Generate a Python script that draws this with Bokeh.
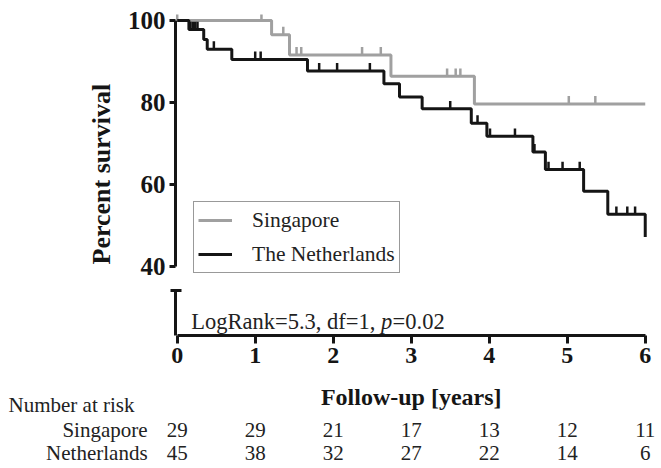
import numpy as np
from bokeh.plotting import figure
from bokeh.models import (Range1d, FixedTicker, Legend, LegendItem,
                          ColumnDataSource, Title)
from bokeh.layouts import column
from bokeh.embed import file_html
from bokeh.resources import INLINE
from bokeh.core.properties import value

# ---------------- data ----------------
sg_times = [0.0, 1.21, 1.44, 2.74, 3.81, 6.0]
sg_surv = [100.0, 96.55, 91.6, 86.4, 79.7, 79.7]
sg_censor = [0.0, 1.08, 1.36, 1.53, 1.59, 2.37, 2.61, 3.46, 3.57, 3.63, 5.02, 5.36]

nl_times = [0.0, 0.15, 0.34, 0.385, 0.70, 1.67, 2.65, 2.85, 3.14, 3.77, 3.97,
            4.56, 4.72, 5.21, 5.52, 6.0]
nl_surv = [100.0, 97.8, 95.4, 93.0, 90.5, 87.7, 84.6, 81.4, 78.5, 75.0, 71.8,
           68.0, 63.7, 58.4, 52.8, 47.3]
nl_censor = [0.17, 0.20, 0.23, 0.26, 0.47, 1.00, 1.07, 1.82, 2.05, 2.47, 3.50,
             3.85, 4.01, 4.33, 4.58, 4.76, 4.94, 5.16, 5.63, 5.77, 5.87]

x_ticks = [0, 1, 2, 3, 4, 5, 6]
y_ticks = [40, 60, 80, 100]
risk_times = [0, 1, 2, 3, 4, 5, 6]
sg_at_risk = [29, 29, 21, 17, 13, 12, 11]
nl_at_risk = [45, 38, 32, 27, 22, 14, 6]
group_names = ["Singapore", "The Netherlands"]
risk_title = "Number  at risk"
risk_row_names = ["Singapore", "Netherlands"]
stat_text = ["LogRank=5.3, df=1, ", "p", "=0.02"]
x_label = "Follow-up [years]"
y_label = "Percent survival"

# ---------------- style / layout ----------------
SERIF = "Liberation Serif"
GRAY = "#a0a0a0"
BLACK = "#151515"
TXT = "#222222"
W = 658
LEFT = 175
X0, X1 = -0.0218, 6.17
xr = Range1d(X0, X1)
k = (W - LEFT) / (X1 - X0)          # px per year
xr_c = Range1d(X0 - LEFT / k, X1)   # full-width range for the table panel


def censor_y(times, surv, cens):
    idx = np.searchsorted(np.array(times), np.array(cens), side="right") - 1
    idx = np.clip(idx, 0, len(surv) - 1)
    return np.array(surv)[idx]


def clean(p):
    p.outline_line_color = None
    p.grid.visible = False
    p.background_fill_color = "white"
    p.border_fill_color = "white"
    p.min_border_right = 0


# ---------------- top panel: survival curves ----------------
pA = figure(width=W, height=280, x_range=xr, y_range=Range1d(36.7, 101.46),
            output_backend="svg", toolbar_location=None, x_axis_location=None,
            min_border_left=LEFT, min_border_top=14, min_border_bottom=0)
clean(pA)
ya = pA.yaxis[0]
ya.ticker = FixedTicker(ticks=y_ticks)
ya.bounds = (40, 100)
ya.axis_line_width = 3
ya.axis_line_color = BLACK
ya.major_tick_line_width = 3
ya.major_tick_line_color = BLACK
ya.major_tick_out = 6
ya.major_tick_in = 0
ya.minor_tick_line_color = None
ya.major_label_text_font = SERIF
ya.major_label_text_font_style = "bold"
ya.major_label_text_font_size = "25px"
ya.major_label_text_color = BLACK
ya.major_label_standoff = 4

ttl = Title(text=y_label, align="left", offset=16, standoff=17,
            text_font=SERIF, text_font_style="bold", text_font_size="26px",
            text_color=BLACK)
pA.add_layout(ttl, "left")

tick_half = 0.95
sg_line = pA.step(sg_times, sg_surv, mode="after", line_color=GRAY, line_width=3)
sg_c = pA.scatter(sg_censor, censor_y(sg_times, sg_surv, sg_censor) + tick_half,
                  marker="dash", angle=np.pi / 2, size=8, line_color=GRAY,
                  line_width=2.5)
nl_line = pA.step(nl_times, nl_surv, mode="after", line_color=BLACK, line_width=3)
nl_c = pA.scatter(nl_censor, censor_y(nl_times, nl_surv, nl_censor) + tick_half,
                  marker="dash", angle=np.pi / 2, size=8, line_color=BLACK,
                  line_width=2.5)

legend = Legend(items=[LegendItem(label=group_names[0], renderers=[sg_line, sg_c]),
                       LegendItem(label=group_names[1], renderers=[nl_line, nl_c])],
                location=(18, 7), margin=0, padding=4, spacing=6,
                glyph_width=34, glyph_height=28, label_height=28,
                label_standoff=20, border_line_color="#333333",
                border_line_width=1.5,
                label_text_font=SERIF, label_text_font_size="21.5px",
                label_text_color=TXT, background_fill_color="white")
pA.add_layout(legend)

# ---------------- middle panel: axis segment + stats ----------------
pB = figure(width=W, height=97, x_range=xr, y_range=Range1d(0, 49 / 45),
            output_backend="svg", toolbar_location=None,
            min_border_left=LEFT, min_border_top=6, min_border_bottom=42)
clean(pB)
yb = pB.yaxis[0]
yb.ticker = FixedTicker(ticks=[1])
yb.major_label_overrides = {1: ""}
yb.bounds = (0, 1)
yb.axis_line_width = 3
yb.axis_line_color = BLACK
yb.major_tick_line_width = 3
yb.major_tick_line_color = BLACK
yb.major_tick_out = 5
yb.major_tick_in = 6
yb.minor_tick_line_color = None

xb = pB.xaxis[0]
xb.ticker = FixedTicker(ticks=x_ticks)
xb.bounds = (0, 6)
xb.axis_line_width = 3
xb.axis_line_color = BLACK
xb.major_tick_line_width = 3
xb.major_tick_line_color = BLACK
xb.major_tick_out = 8
xb.major_tick_in = 0
xb.minor_tick_line_color = None
xb.major_label_text_font = SERIF
xb.major_label_text_font_style = "bold"
xb.major_label_text_font_size = "24px"
xb.major_label_text_color = BLACK
xb.major_label_standoff = 4

STAT_FS = 22.5
stat_kw = dict(text_font=value(SERIF), text_font_size=f"{STAT_FS}px",
               text_color=TXT, text_baseline="middle", text_align="left")
pB.text(x=[0.18], y=[0.32], text=[stat_text[0]], **stat_kw)
pB.text(x=[0.18], y=[0.32], text=[stat_text[1]], x_offset=8.433 * STAT_FS,
        text_font_style="italic", **stat_kw)
pB.text(x=[0.18], y=[0.32], text=[stat_text[2]], x_offset=8.95 * STAT_FS,
        **stat_kw)

# ---------------- bottom panel (separate root): label + number at risk ------
C_H = 88
ROW_TITLE_Y, ROW_SG_Y, ROW_NL_Y, XLAB_Y = 61, 36, 13, 69
LABEL_X = -0.38
TITLE_X = xr_c.start + 8 / k
pC = figure(width=W, height=C_H, x_range=xr_c, y_range=Range1d(0, C_H),
            output_backend="svg", toolbar_location=None, x_axis_location=None,
            y_axis_location=None, min_border_left=0, min_border_top=0,
            min_border_bottom=0)
clean(pC)

pC.text(x=[3], y=[XLAB_Y], text=[x_label], text_font=value(SERIF),
        text_font_style="bold", text_font_size="24px", text_color=BLACK,
        text_align="center", text_baseline="middle")

lab_kw = dict(text_font=value(SERIF), text_font_size="21px", text_color=TXT,
              text_baseline="middle")
pC.text(x=[TITLE_X], y=[ROW_TITLE_Y], text=[risk_title], text_align="left",
        **lab_kw)
pC.text(x=[LABEL_X, LABEL_X], y=[ROW_SG_Y, ROW_NL_Y], text=risk_row_names,
        text_align="right", **lab_kw)

src_sg = ColumnDataSource(dict(x=risk_times, t=[str(v) for v in sg_at_risk]))
src_nl = ColumnDataSource(dict(x=risk_times, t=[str(v) for v in nl_at_risk]))
pC.text(x="x", y=ROW_SG_Y, text="t", source=src_sg, text_align="center", **lab_kw)
pC.text(x="x", y=ROW_NL_Y, text="t", source=src_nl, text_align="center", **lab_kw)

top = column(pA, pB, spacing=0)
open("out.html", "w").write(file_html([top, pC], INLINE))
